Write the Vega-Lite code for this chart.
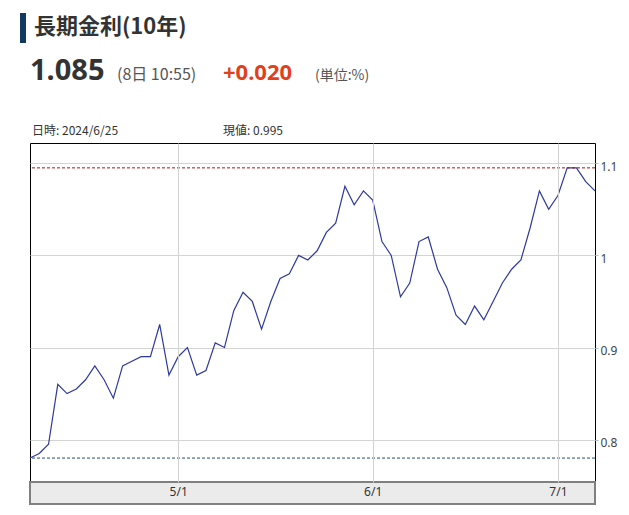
{
  "$schema": "https://vega.github.io/schema/vega-lite/v6.json",
  "autosize": {"type": "none"},
  "padding": {"left": 30, "top": 143, "right": 34, "bottom": 33},
  "width": 565,
  "height": 339,
  "background": "white",
  "config": {"view": {"stroke": "#000000", "strokeWidth": 1}, "font": "Noto Sans CJK JP"},
  "data": {"values": [
    {"d": "2024-04-08", "v": 0.780}, {"d": "2024-04-09", "v": 0.785}, {"d": "2024-04-10", "v": 0.795},
    {"d": "2024-04-11", "v": 0.860}, {"d": "2024-04-12", "v": 0.850}, {"d": "2024-04-15", "v": 0.855},
    {"d": "2024-04-16", "v": 0.865}, {"d": "2024-04-17", "v": 0.880}, {"d": "2024-04-18", "v": 0.865},
    {"d": "2024-04-19", "v": 0.845}, {"d": "2024-04-22", "v": 0.880}, {"d": "2024-04-23", "v": 0.885},
    {"d": "2024-04-24", "v": 0.890}, {"d": "2024-04-25", "v": 0.890}, {"d": "2024-04-26", "v": 0.925},
    {"d": "2024-04-30", "v": 0.870}, {"d": "2024-05-01", "v": 0.890}, {"d": "2024-05-02", "v": 0.900},
    {"d": "2024-05-07", "v": 0.870}, {"d": "2024-05-08", "v": 0.875}, {"d": "2024-05-09", "v": 0.905},
    {"d": "2024-05-10", "v": 0.900}, {"d": "2024-05-13", "v": 0.940}, {"d": "2024-05-14", "v": 0.960},
    {"d": "2024-05-15", "v": 0.950}, {"d": "2024-05-16", "v": 0.920}, {"d": "2024-05-17", "v": 0.950},
    {"d": "2024-05-20", "v": 0.975}, {"d": "2024-05-21", "v": 0.980}, {"d": "2024-05-22", "v": 1.000},
    {"d": "2024-05-23", "v": 0.995}, {"d": "2024-05-24", "v": 1.005}, {"d": "2024-05-27", "v": 1.025},
    {"d": "2024-05-28", "v": 1.035}, {"d": "2024-05-29", "v": 1.075}, {"d": "2024-05-30", "v": 1.055},
    {"d": "2024-05-31", "v": 1.070}, {"d": "2024-06-03", "v": 1.060}, {"d": "2024-06-04", "v": 1.015},
    {"d": "2024-06-05", "v": 1.000}, {"d": "2024-06-06", "v": 0.955}, {"d": "2024-06-07", "v": 0.970},
    {"d": "2024-06-10", "v": 1.015}, {"d": "2024-06-11", "v": 1.020}, {"d": "2024-06-12", "v": 0.985},
    {"d": "2024-06-13", "v": 0.965}, {"d": "2024-06-14", "v": 0.935}, {"d": "2024-06-17", "v": 0.925},
    {"d": "2024-06-18", "v": 0.945}, {"d": "2024-06-19", "v": 0.930}, {"d": "2024-06-20", "v": 0.950},
    {"d": "2024-06-21", "v": 0.970}, {"d": "2024-06-24", "v": 0.985}, {"d": "2024-06-25", "v": 0.995},
    {"d": "2024-06-26", "v": 1.030}, {"d": "2024-06-27", "v": 1.070}, {"d": "2024-06-28", "v": 1.050},
    {"d": "2024-07-01", "v": 1.065}, {"d": "2024-07-02", "v": 1.095}, {"d": "2024-07-03", "v": 1.095},
    {"d": "2024-07-04", "v": 1.080}, {"d": "2024-07-05", "v": 1.070}
  ]},
  "layer": [
    {
      "mark": {"type": "line", "color": "#2e3a9e", "strokeWidth": 1.2},
      "encoding": {
        "x": {
          "field": "d", "type": "ordinal", "sort": "ascending", "title": null,
          "scale": {"type": "point", "padding": 0},
          "axis": {
            "values": ["2024-05-01", "2024-06-03", "2024-07-01"],
            "labelExpr": "toNumber(slice(datum.value, 5, 7)) + '/1'",
            "grid": true, "gridColor": "#d3d3d3", "gridWidth": 1,
            "domain": false, "ticks": false, "labelAngle": 0,
            "labelFont": "Noto Sans", "labelFontSize": 12, "labelColor": "#333333",
            "labelPadding": 4, "labelBaseline": "top", "zindex": 1
          }
        },
        "y": {
          "field": "v", "type": "quantitative", "title": null,
          "scale": {"domain": [0.754, 1.122], "nice": false, "zero": false},
          "axis": {
            "orient": "right", "values": [0.8, 0.9, 1, 1.1], "format": "~g",
            "grid": true, "gridColor": "#d3d3d3", "gridWidth": 1,
            "domain": false, "tickSize": 3, "tickColor": "#a9c4e0",
            "labelPadding": 2, "labelFont": "Noto Sans", "labelFontSize": 12,
            "labelColor": "#444444", "labelOffset": 3
          }
        }
      }
    },
    {
      "mark": {"type": "rule", "color": "#b01010", "strokeDash": [3, 2], "strokeWidth": 1},
      "encoding": {"y": {"aggregate": "max", "field": "v", "type": "quantitative", "title": null}}
    },
    {
      "mark": {"type": "rule", "color": "#274b7a", "strokeDash": [3, 2], "strokeWidth": 1},
      "encoding": {"y": {"aggregate": "min", "field": "v", "type": "quantitative", "title": null}}
    },
    {
      "data": {"values": [{}]},
      "mark": {"type": "rect", "fill": "#ebebeb", "stroke": "#808080", "strokeWidth": 2},
      "encoding": {"x": {"value": 0}, "x2": {"value": 565}, "y": {"value": 339}, "y2": {"value": 361}}
    },
    {
      "data": {"values": [{}]},
      "mark": {"type": "rect", "fill": "#123a5f"},
      "encoding": {"x": {"value": -10}, "x2": {"value": -4}, "y": {"value": -130}, "y2": {"value": -100}}
    },
    {
      "data": {"values": [{}]},
      "mark": {"type": "text", "text": "長期金利(10年)", "x": 4, "y": -116, "align": "left", "baseline": "middle", "font": "Noto Sans CJK JP", "fontSize": 22, "fontWeight": "bold", "color": "#333333"}
    },
    {
      "data": {"values": [{}]},
      "mark": {"type": "text", "text": "1.085", "x": 0, "y": -63, "align": "left", "baseline": "alphabetic", "font": "Noto Sans", "fontSize": 29, "fontWeight": "bold", "color": "#333333"}
    },
    {
      "data": {"values": [{}]},
      "mark": {"type": "text", "text": "(8日 10:55)", "x": 87, "y": -63, "align": "left", "baseline": "alphabetic", "font": "Noto Sans CJK JP", "fontSize": 16, "color": "#555555"}
    },
    {
      "data": {"values": [{}]},
      "mark": {"type": "text", "text": "+0.020", "x": 193, "y": -63, "align": "left", "baseline": "alphabetic", "font": "Noto Sans", "fontSize": 22, "fontWeight": "bold", "color": "#e2401c"}
    },
    {
      "data": {"values": [{}]},
      "mark": {"type": "text", "text": "(単位:%)", "x": 285, "y": -63, "align": "left", "baseline": "alphabetic", "font": "Noto Sans CJK JP", "fontSize": 14, "color": "#555555"}
    },
    {
      "data": {"values": [{}]},
      "mark": {"type": "text", "text": "日時: 2024/6/25", "x": 2, "y": -8, "align": "left", "baseline": "alphabetic", "font": "Noto Sans CJK JP", "fontSize": 12, "color": "#333333"}
    },
    {
      "data": {"values": [{}]},
      "mark": {"type": "text", "text": "現値: 0.995", "x": 193, "y": -8, "align": "left", "baseline": "alphabetic", "font": "Noto Sans CJK JP", "fontSize": 12, "color": "#333333"}
    }
  ]
}
